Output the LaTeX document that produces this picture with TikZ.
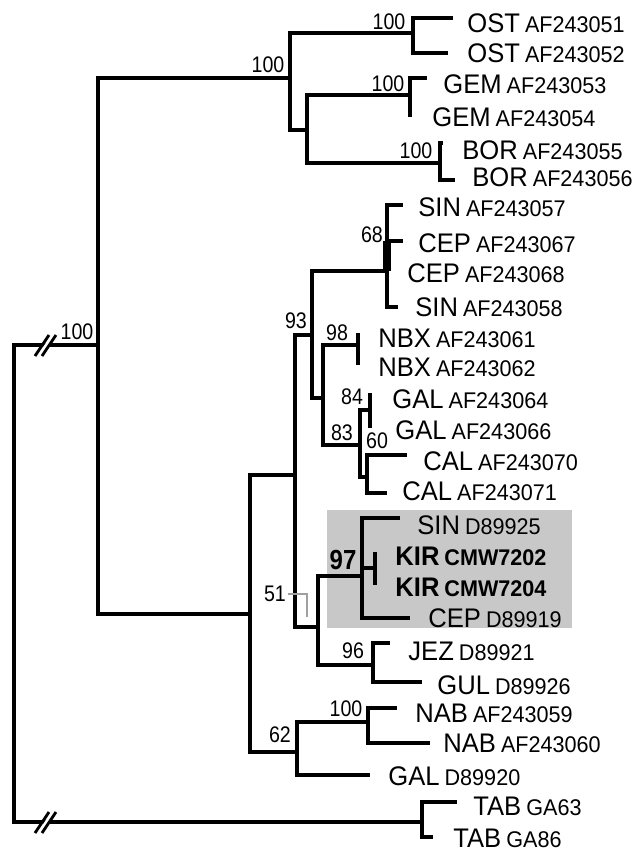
\documentclass[tikz,border=0pt]{standalone}
\usepackage{graphicx}
\usepackage{fontspec}
\setmainfont{Liberation Sans}
\usetikzlibrary{calc}
\newcommand{\acc}[2]{\scalebox{1}[1.05]{{\fontsize{12.8}{14}\selectfont #1}\hspace{2.5pt}{\fontsize{10.8}{12}\selectfont #2}}}
\newcommand{\bs}[1]{\scalebox{1}[1.15]{#1}}

\begin{document}
\begin{tikzpicture}[
  x={(0.5pt,0pt)},
  y={(0pt,-0.5pt)},
  branch/.style={line width=1.9pt},
  taxon/.style={anchor=west, inner sep=0pt},
  boot/.style={inner sep=0pt, font=\fontsize{9.8}{11}\selectfont},
  faint/.style={faintgray, line width=1.1pt}
]
  \definecolor{cladegray}{RGB}{200,200,200}
  \definecolor{faintgray}{RGB}{160,160,160}

  \useasboundingbox (0,0) rectangle (638,852);

  % Shaded clade behind the tree
  \fill[cladegray] (327,510) rectangle (572,628);

  % Internal nodes (x = depth, y = where the parent branch joins)
  \coordinate (root) at (14,583);
  \coordinate (nA)   at (98,345);
  \coordinate (nB)   at (290,78);
  \coordinate (nC)   at (307,130);
  \coordinate (nOST) at (413,33);
  \coordinate (nGEM) at (410,95);
  \coordinate (nBOR) at (440,163);
  \coordinate (nD)   at (250,614);
  \coordinate (n93)  at (295,475);
  \coordinate (nX)   at (312,335);
  \coordinate (n68)  at (387,271);
  \coordinate (n68a) at (387,241);
  \coordinate (nY)   at (323,398);
  \coordinate (nNBX) at (358,345);
  \coordinate (n83)  at (360,445);
  \coordinate (n84)  at (370,410);
  \coordinate (n60)  at (367,477);
  \coordinate (nZ)   at (318,627);
  \coordinate (n97)  at (362,576);
  \coordinate (nKIR) at (375,568);
  \coordinate (n96)  at (373,665);
  \coordinate (n62)  at (297,752);
  \coordinate (nNAB) at (368,722);
  \coordinate (nTAB) at (422,822);

  % Leaf tips
  \coordinate (tOST1) at (453,18);
  \coordinate (tOST2) at (448,53);
  \coordinate (tGEM1) at (427,78);
  \coordinate (tGEM2) at (410,117);
  \coordinate (tBOR1) at (443,143);
  \coordinate (tBOR2) at (455,180);
  \coordinate (tSIN1) at (403,205);
  \coordinate (tCEP1) at (403,241);
  \coordinate (tSIN2) at (398,307);
  \coordinate (tNBX1) at (358,333);
  \coordinate (tNBX2) at (358,365);
  \coordinate (tGAL1) at (370,393);
  \coordinate (tGAL2) at (370,428);
  \coordinate (tCAL1) at (407,455);
  \coordinate (tCAL2) at (387,493);
  \coordinate (tSIN3) at (400,518);
  \coordinate (tKIR1) at (375,552);
  \coordinate (tKIR2) at (375,585);
  \coordinate (tCEP3) at (410,618);
  \coordinate (tJEZ)  at (390,643);
  \coordinate (tGUL)  at (422,682);
  \coordinate (tNAB1) at (397,708);
  \coordinate (tNAB2) at (430,743);
  \coordinate (tGAL3) at (370,775);
  \coordinate (tTAB1) at (457,802);
  \coordinate (tTAB2) at (433,837);

  % Branches, parent to child
  \foreach \p/\c in {root/nA, root/nTAB, nA/nB, nA/nD, nB/nOST, nB/nC,
      nOST/tOST1, nOST/tOST2, nC/nGEM, nC/nBOR, nGEM/tGEM1, nGEM/tGEM2,
      nBOR/tBOR1, nBOR/tBOR2, nD/n93, nD/n62, n93/nX, n93/nZ, nX/n68, nX/nY,
      n68/n68a, n68/tSIN2, n68a/tSIN1, n68a/tCEP1, nY/nNBX, nY/n83,
      nNBX/tNBX1, nNBX/tNBX2, n83/n84, n83/n60, n84/tGAL1, n84/tGAL2,
      n60/tCAL1, n60/tCAL2, nZ/n97, nZ/n96, n97/tSIN3, n97/nKIR, n97/tCEP3,
      nKIR/tKIR1, nKIR/tKIR2, n96/tJEZ, n96/tGUL, n62/nNAB, n62/tGAL3,
      nNAB/tNAB1, nNAB/tNAB2, nTAB/tTAB1, nTAB/tTAB2}
    \draw[branch] (\p) |- (\c);
  \draw[branch, line width=3.6pt] (n68a) -- (n68);

  % Faint alternative node
  \coordinate (g51a) at (288,594);
  \coordinate (g51b) at (307,594);
  \coordinate (g51c) at (307,617);
  \draw[faint] (g51a) -- (g51b) -- (g51c);

  % Broken branches
  \coordinate (brkU) at (46,345);
  \coordinate (brkL) at (46,822);
  \foreach \b in {brkU, brkL} {
    \draw[white, line width=1.6pt] ($(\b)+(-7,11)$) -- ($(\b)+(7,-10)$);
    \draw[line width=1.4pt] ($(\b)+(-11,11)$) -- ($(\b)+(3,-10)$);
    \draw[line width=1.4pt] ($(\b)+(-4,11)$) -- ($(\b)+(10,-10)$);
  }

  % Bootstrap values
  \node[boot] (b1)  at (77,332)  {\bs{100}};
  \node[boot] (b2)  at (268,65)  {\bs{100}};
  \node[boot] (b3)  at (389,22)  {\bs{100}};
  \node[boot] (b4)  at (388,84)  {\bs{100}};
  \node[boot] (b5)  at (416,151) {\bs{100}};
  \node[boot] (b6)  at (372,235) {\bs{68}};
  \node[boot] (b7)  at (296,321) {\bs{93}};
  \node[boot] (b8)  at (337,333) {\bs{98}};
  \node[boot] (b9)  at (352,397) {\bs{84}};
  \node[boot] (b10) at (342,433) {\bs{83}};
  \node[boot] (b11) at (377,441) {\bs{60}};
  \node[boot, font=\bfseries\fontsize{12}{14}\selectfont] (b12) at (343,560) {\bs{97}};
  \node[boot] (b13) at (275,594) {\bs{51}};
  \node[boot] (b14) at (353,651) {\bs{96}};
  \node[boot] (b15) at (346,709) {\bs{100}};
  \node[boot] (b16) at (280,735) {\bs{62}};

  % Taxa
  \node[taxon] (lOST1) at (467,23)  {\acc{OST}{AF243051}};
  \node[taxon] (lOST2) at (467,53)  {\acc{OST}{AF243052}};
  \node[taxon] (lGEM1) at (443,84)  {\acc{GEM}{AF243053}};
  \node[taxon] (lGEM2) at (432,117) {\acc{GEM}{AF243054}};
  \node[taxon] (lBOR1) at (462,150) {\acc{BOR}{AF243055}};
  \node[taxon] (lBOR2) at (472,177) {\acc{BOR}{AF243056}};
  \node[taxon] (lSIN1) at (418,207) {\acc{SIN}{AF243057}};
  \node[taxon] (lCEP1) at (418,243) {\acc{CEP}{AF243067}};
  \node[taxon] (lCEP2) at (407,273) {\acc{CEP}{AF243068}};
  \node[taxon] (lSIN2) at (415,307) {\acc{SIN}{AF243058}};
  \node[taxon] (lNBX1) at (378,338) {\acc{NBX}{AF243061}};
  \node[taxon] (lNBX2) at (378,367) {\acc{NBX}{AF243062}};
  \node[taxon] (lGAL1) at (392,399) {\acc{GAL}{AF243064}};
  \node[taxon] (lGAL2) at (395,430) {\acc{GAL}{AF243066}};
  \node[taxon] (lCAL1) at (423,461) {\acc{CAL}{AF243070}};
  \node[taxon] (lCAL2) at (402,491) {\acc{CAL}{AF243071}};
  \node[taxon] (lSIN3) at (417,525) {\acc{SIN}{D89925}};
  \node[taxon, font=\bfseries] (lKIR1) at (395,556) {\acc{KIR}{CMW7202}};
  \node[taxon, font=\bfseries] (lKIR2) at (395,587) {\acc{KIR}{CMW7204}};
  \node[taxon] (lCEP3) at (428,618) {\acc{CEP}{D89919}};
  \node[taxon] (lJEZ)  at (408,651) {\acc{JEZ}{D89921}};
  \node[taxon] (lGUL)  at (437,685) {\acc{GUL}{D89926}};
  \node[taxon] (lNAB1) at (415,713) {\acc{NAB}{AF243059}};
  \node[taxon] (lNAB2) at (443,743) {\acc{NAB}{AF243060}};
  \node[taxon] (lGAL3) at (388,776) {\acc{GAL}{D89920}};
  \node[taxon] (lTAB1) at (473,806) {\acc{TAB}{GA63}};
  \node[taxon] (lTAB2) at (453,838) {\acc{TAB}{GA86}};
\end{tikzpicture}
\end{document}
